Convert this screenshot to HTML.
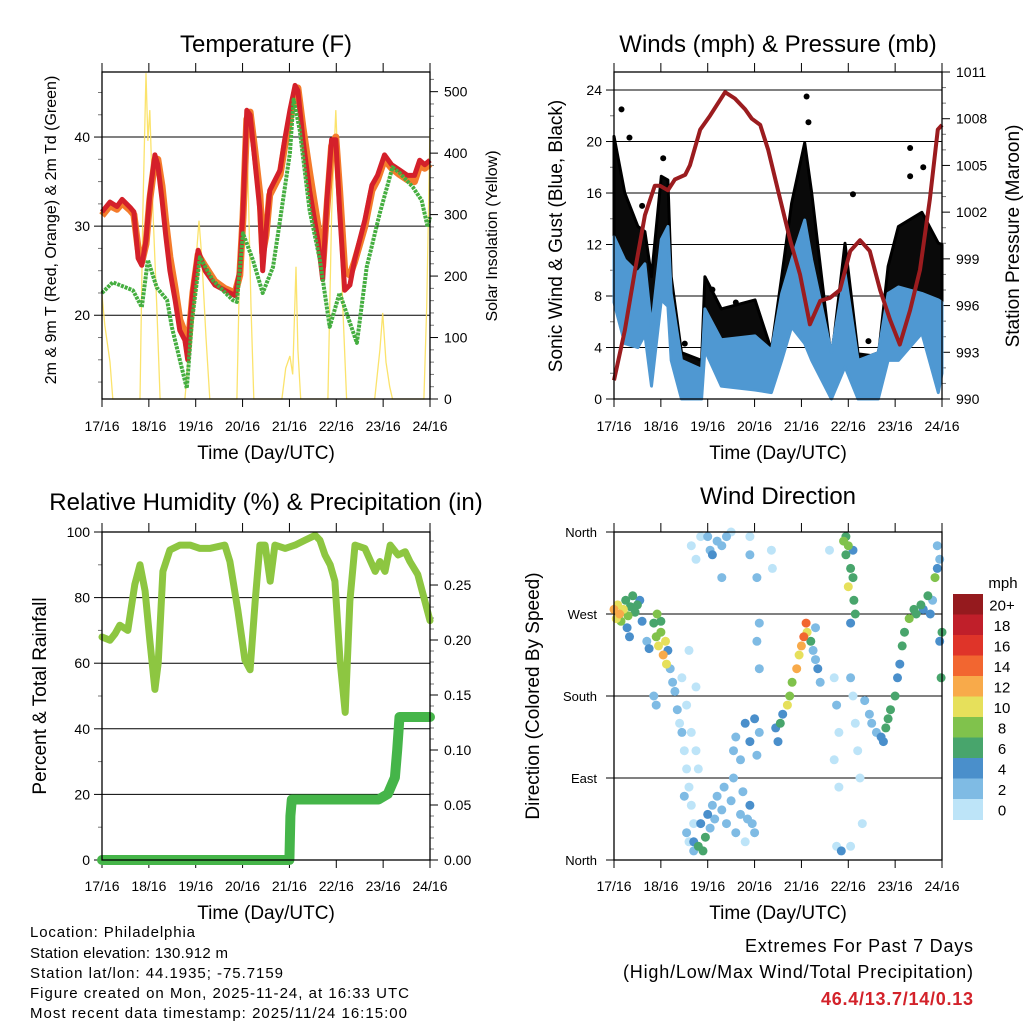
<!DOCTYPE html>
<html><head><meta charset="utf-8"><title>Station Meteogram</title>
<style>
html,body{margin:0;padding:0;background:#fff;}
svg{display:block;font-family:"Liberation Sans",Arial,sans-serif;}
</style></head>
<body>
<svg id="chart" width="1024" height="1024" viewBox="0 0 1024 1024" xmlns="http://www.w3.org/2000/svg">
<rect x="0" y="0" width="1024" height="1024" fill="#fff"/>
<g id="layer"></g>
<g font-size="15" fill="#000">
<text x="30" y="937" textLength="165">Location: Philadelphia</text>
<text x="30" y="958" textLength="198">Station elevation: 130.912 m</text>
<text x="30" y="978" textLength="253">Station lat/lon: 44.1935; -75.7159</text>
<text x="30" y="998" textLength="379">Figure created on Mon, 2025-11-24, at 16:33 UTC</text>
<text x="30" y="1018" textLength="377">Most recent data timestamp: 2025/11/24 16:15:00</text>
</g>
<g text-anchor="end">
<text x="973" y="952" font-size="18" textLength="228">Extremes For Past 7 Days</text>
<text x="973" y="978" font-size="18" textLength="350">(High/Low/Max Wind/Total Precipitation)</text>
<text x="973" y="1005" font-size="18" font-weight="bold" fill="#d3222a" textLength="152">46.4/13.7/14/0.13</text>
</g>
</svg>
<script>
// ---------- DATA ----------
const dayLabels = ["17/16","18/16","19/16","20/16","21/16","22/16","23/16","24/16"];
// Temperature
const tempT = [0,.17,.32,.43,.6,.68,.77,.85,.94,1.02,1.13,1.19,1.28,1.36,1.45,1.56,1.66,1.77,1.83,1.88,1.94,2.05,2.2,2.41,2.62,2.84,2.94,3.01,3.09,3.16,3.26,3.37,3.43,3.5,3.58,3.8,3.9,4.01,4.12,4.18,4.29,4.43,4.61,4.71,4.8,4.9,4.99,5.07,5.18,5.29,5.39,5.61,5.76,5.88,6.03,6.18,6.35,6.52,6.67,6.78,6.89,7.0];
const tempRed = [31.6,32.7,32.2,33.0,32.1,31.6,26.4,25.6,28.4,33.5,38.0,36.9,33.0,29.0,25.0,21.7,18.3,17.2,15.0,19.4,22.8,27.3,25.0,23.4,22.8,22.2,25.0,31.8,43.0,42.5,37.4,31.8,25.0,29.5,34.0,36.3,39.7,43.0,45.8,45.2,39.7,34.0,28.4,24.0,33.0,39.7,39.7,31.8,22.8,23.4,26.2,30.7,34.6,35.7,38.0,36.9,36.3,35.7,35.7,37.4,36.9,37.4];
const tempOrange = [31.2,32.3,31.9,32.6,31.8,31.3,27.5,26.0,28.0,33.0,37.4,37.5,34.5,30.5,26.5,23.0,19.5,18.0,16.0,19.0,22.5,26.8,25.5,23.8,23.0,22.5,24.5,31.0,42.0,42.8,38.5,33.5,27.0,29.0,33.5,35.8,39.0,42.0,45.0,45.5,41.0,36.0,30.0,25.5,32.0,39.0,40.0,34.0,25.0,24.5,26.0,30.0,34.0,35.2,37.5,36.5,35.8,35.2,35.0,36.8,36.5,37.0];
const dewT = [0,.23,.66,.85,.98,1.17,1.39,1.49,1.66,1.81,1.92,2.09,2.37,2.79,2.88,3.01,3.22,3.43,3.65,3.8,4.01,4.09,4.22,4.43,4.65,4.86,5.07,5.44,5.65,5.93,6.2,6.35,6.63,6.82,6.95,7.0];
const dewV = [22.5,23.7,22.8,20.9,26.2,23.1,21.7,18.7,15.0,11.8,19.4,26.5,23.9,21.7,21.5,29.2,26.2,22.5,25.4,30.7,38.2,44.2,40.8,31.8,26.2,18.7,22.5,16.9,25.4,31.5,36.6,36.0,34.4,32.9,29.9,31.0];
const solarT = [0,.06,.17,.23,.81,.87,.94,.98,1.02,1.09,1.17,1.24,1.77,1.88,1.98,2.07,2.13,2.22,2.3,2.88,2.96,3.05,3.11,3.18,3.24,3.84,3.92,4.01,4.07,4.14,4.18,4.24,4.82,4.9,4.99,5.05,5.14,5.22,5.82,5.93,5.99,6.06,6.14,6.2,6.87,6.93,7.0];
const solarV = [170,120,60,0,0,300,530,420,470,300,150,0,0,100,200,290,230,100,0,0,300,460,380,150,0,0,50,70,40,215,80,0,0,300,470,350,150,0,0,80,140,60,20,0,0,150,440];
const tempTicks = [20,30,40];
const solarTicks = [0,100,200,300,400,500];
// Winds
const windT = [0,.23,.51,.66,.80,1.01,1.15,1.22,1.44,1.87,1.94,2.29,3.01,3.36,3.58,3.79,4.07,4.22,4.64,4.93,5.21,5.64,5.85,6.07,6.57,6.92,7.0];
const windTop = [12.6,10.8,9.8,10.5,5.6,12.4,13.4,8.2,3.0,2.3,7.0,4.6,4.9,3.8,8.2,10.8,13.9,10.8,3.6,9.8,3.0,3.6,8.2,8.7,8.2,7.7,7.5];
const windBot = [7.5,4.3,4.0,5.0,1.0,7.7,7.2,3.0,0,0,3.8,1.0,0.7,0.5,3.0,5.6,4.3,3.0,0,2.5,0,0,3.0,3.0,5.1,0.5,2.0];
const gustTop = [20.4,16.0,13.4,13.0,9.5,17.3,17.0,9.5,3.6,3.0,9.5,7.0,7.7,3.8,9.5,15.2,19.9,16.0,3.0,12.1,3.5,3.3,10.3,13.4,14.5,12.1,12.0];
const gustOutT = [.16,.33,1.05,1.51,4.11,4.15,5.1,5.43,6.32,6.32,6.6,0.6,2.1,2.6];
const gustOutV = [22.5,20.3,18.7,4.3,23.5,21.5,15.9,4.5,19.5,17.3,18.0,15.0,8.5,7.5];
const presT = [0,.23,.45,.66,.87,.98,1.15,1.3,1.52,1.62,1.84,2.05,2.37,2.58,2.8,2.94,3.12,3.29,3.5,3.76,3.97,4.18,4.4,4.61,4.82,5.04,5.25,5.46,5.68,5.89,6.1,6.32,6.53,6.74,6.91,7.0];
const presV = [991.2,994.4,998.3,1001.8,1003.7,1003.7,1003.4,1004.1,1004.4,1005.0,1007.3,1008.2,1009.7,1009.3,1008.6,1008.0,1007.6,1006.0,1003.4,1000.2,998.0,994.8,996.3,996.5,997.0,999.5,1000.2,999.5,997.0,995.1,993.5,995.7,998.3,1002.8,1007.3,1007.6];
const windTicks = [0,4,8,12,16,20,24];
const presTicks = [990,993,996,999,1002,1005,1008,1011];
// RH & precip
const rhT = [0,.17,.28,.38,.55,.7,.81,.92,1.02,1.13,1.2,1.3,1.45,1.66,1.88,2.09,2.3,2.62,2.73,2.9,3.05,3.16,3.27,3.37,3.48,3.59,3.69,3.91,4.12,4.33,4.55,4.65,4.76,4.87,4.97,5.08,5.19,5.29,5.4,5.61,5.83,5.93,6.04,6.15,6.32,6.47,6.57,6.74,6.89,7.0];
const rhV = [68,67,69,71.6,70,84,90,82,67,52,60,88,94.5,96,96,95,95,96,91,76,61,58,79,96,96,85,96,95,96,97.5,99,97.5,93,90,85,61,45,79,96,95,88,91,88,96,93,94,91,87,79,73];
const precipT = [0,4.0,4.02,4.05,5.9,6.1,6.25,6.3,6.35,7.0];
const precipV = [0,0,0.04,0.055,0.055,0.06,0.075,0.1,0.13,0.13];
const rhTicks = [0,20,40,60,80,100];
const precipTicks = [0,0.05,0.10,0.15,0.20,0.25];
// Wind direction
const dirT = [0,.05,.08,.12,.15,.2,.25,.3,.35,.4,.45,.5,.55,.6,.28,.33,
 .7,.75,.85,.9,.95,1.0,1.05,1.1,1.12,1.15,1.2,.92,1.0,
 .85,.9,1.25,1.3,1.35,1.4,1.45,1.5,1.55,1.6,1.65,1.7,1.55,1.65,1.75,1.8,1.5,1.6,1.7,1.45,1.6,1.75,
 1.55,1.7,1.8,1.85,1.9,1.95,2.0,2.05,2.1,2.15,2.2,2.3,2.35,2.4,2.5,2.55,2.6,2.7,2.75,2.8,2.85,2.9,2.95,3.0,
 2.55,2.6,2.7,2.8,2.9,3.0,3.05,3.1,
 1.65,1.75,1.85,2.0,2.05,2.1,2.2,2.3,2.4,2.3,2.5,
 2.9,2.9,3.05,3.1,3.05,3.1,3.36,3.38,
 3.45,3.55,3.6,3.7,3.75,3.8,3.9,3.95,4.0,4.05,4.1,4.12,4.2,4.25,4.3,4.35,4.4,4.3,3.5,
 4.6,4.7,4.75,4.8,4.7,4.8,4.75,5.05,5.1,5.15,5.2,5.25,5.3,5.05,4.85,
 4.9,4.95,5.0,5.05,5.1,5.0,5.12,5.15,5.05,4.95,5.1,
 5.35,5.45,5.5,5.6,5.7,5.75,5.8,5.85,
 5.9,6.0,6.05,6.1,6.15,6.2,6.3,6.4,
 6.45,6.55,6.6,6.7,6.75,6.8,6.85,6.9,6.95,7.0,6.98,6.95,6.9];
const dirD = [275,265,280,270,262,275,285,268,278,290,272,280,285,262,255,245,
 240,232,260,245,235,250,225,240,215,230,210,270,262,
 180,170,195,185,165,150,140,120,100,80,60,40,170,140,120,100,70,20,10,200,230,190,
 30,20,15,40,10,25,50,35,60,45,70,55,80,40,65,90,30,50,75,20,45,60,40,30,
 120,135,110,150,130,155,115,140,
 345,330,355,355,340,335,350,345,355,310,360,
 355,335,310,260,240,210,340,320,
 145,150,160,170,180,195,210,225,235,245,260,250,240,230,220,210,195,255,130,
 340,200,170,140,110,80,15,200,180,150,120,90,40,15,10,
 350,335,345,320,310,300,285,270,260,355,340,
 175,160,150,140,135,130,145,155,
 165,180,200,215,235,250,265,275,
 270,280,275,290,270,285,310,320,330,250,200,240,345];
const dirS = [12,11,10,13,9,10,7,8,6,6,7,6,5,4,4,4,
 3,4,6,9,10,8,12,11,10,4,3,9,6,
 2,2,3,3,2,1,2,1,1,1,1,1,1,0,0,1,2,1,2,1,0,0,
 3,5,7,4,6,7,4,3,2,3,3,2,3,2,2,3,3,2,3,1,3,4,2,2,
 3,2,3,4,4,4,3,3,
 1,1,1,3,3,4,3,2,3,3,1,
 1,2,2,3,2,2,1,1,
 4,6,5,10,8,9,12,10,13,15,14,10,6,3,3,4,3,2,5,
 1,1,2,1,1,0,1,2,1,1,1,0,0,1,4,
 8,6,9,6,7,10,6,6,4,6,4,
 2,2,3,3,4,5,6,7,
 7,6,5,4,6,6,9,6,
 6,6,4,6,4,3,8,4,3,6,6,4,3];
const dirTickLabels = ["North","East","South","West","North"];
const speedLabels = ["0","2","4","6","8","10","12","14","16","18","20+"];
const speedColors = ["#bde4f8","#7fbbe4","#4a8fcb","#48a56c","#80c24c","#e6e05b","#f8aa4a","#f26630","#df3429","#c01f2a","#951a1e"];

// ---------- HELPERS ----------
const NS = "http://www.w3.org/2000/svg";
const layer = document.getElementById('layer');
function mk(tag, attrs, parent){ const e=document.createElementNS(NS,tag); for(const k in attrs) e.setAttribute(k,attrs[k]); (parent||layer).appendChild(e); return e; }
function txt(x,y,s,size,anchor,parent,extra){ const e=mk('text',Object.assign({x:x,y:y,'font-size':size,'text-anchor':anchor||'middle',fill:'#000'},extra||{}),parent); e.textContent=s; return e; }
function lin(d0,d1,r0,r1){ return v => r0 + (v-d0)/(d1-d0)*(r1-r0); }
function pathFrom(ts,vs,sx,sy){ let d=''; for(let i=0;i<ts.length;i++){ d+=(i?'L':'M')+sx(ts[i]).toFixed(1)+' '+sy(vs[i]).toFixed(1); } return d; }

const P = {
 temp:{l:102,r:430,t:72,b:399},
 wind:{l:614,r:942,t:72,b:399},
 rh:{l:102,r:430,t:532,b:860},
 dir:{l:614,r:942,t:532,b:860}
};

function frame(p, name, title, titleY, xLabY, xTitleY){
 const g=mk('g',{});
 
 
 const sx=lin(0,7,p.l,p.r);
 dayLabels.forEach((lab,i)=>{
  const x=sx(i);
  const tk=mk('line',{x1:x,x2:x,y1:p.b,y2:p.b+8,stroke:'#000','stroke-width':1},g);
  
  
  mk('line',{x1:x,x2:x,y1:p.t-9,y2:p.t,stroke:'#000','stroke-width':1},g);
  const t=txt(x,xLabY,lab,14,'middle',g);
  
  
 });
 const xt=txt((p.l+p.r)/2,xTitleY,'Time (Day/UTC)',19,'middle',g);
 
 
 const tt=txt((p.l+p.r)/2,titleY,title,24,'middle',g);
 
 
 return {sx:sx,g:g};
}
function box(p,name){
 const b=mk('rect',{x:p.l,y:p.t,width:p.r-p.l,height:p.b-p.t,fill:'none',stroke:'#000','stroke-width':1.3});
 
 
}
function yAxis(p,ticks,sy,fmt,side,g,minor){
 ticks.forEach(v=>{
  const y=sy(v);
  if(side==='left'){
   mk('line',{x1:p.l-8,x2:p.l,y1:y,y2:y,stroke:'#000','stroke-width':1},g);
   const t=txt(p.l-12,y+5,fmt(v),14,'end',g);
   
   
  } else {
   mk('line',{x1:p.r,x2:p.r+8,y1:y,y2:y,stroke:'#000','stroke-width':1},g);
   const t=txt(p.r+14,y+5,fmt(v),14,'start',g);
   
   
  }
 });
 if(minor){ minor.forEach(v=>{ const y=sy(v); if(side==='left') mk('line',{x1:p.l-4,x2:p.l,y1:y,y2:y,stroke:'#777','stroke-width':1},g); else mk('line',{x1:p.r,x2:p.r+4,y1:y,y2:y,stroke:'#777','stroke-width':1},g); }); }
}
function grid(p,vals,sy,g){ vals.forEach(v=>{ const y=sy(v); const l=mk('line',{x1:p.l,x2:p.r,y1:y,y2:y,stroke:'#000','stroke-width':1},g);   }); }
function vtitle(x,y,s,size,name){ const t=txt(x,y,s,size,'middle',layer,{transform:'rotate(-90 '+x+' '+y+')'});   }

// ---------- PANEL 1: TEMPERATURE ----------
(function(){
 const p=P.temp; const f=frame(p,'temperature','Temperature (F)',52,431,459);
 const sy=lin(10.6,47.3,p.b,p.t); const sy2=lin(0,532,p.b,p.t);
 grid(p,tempTicks,sy,f.g);
 const minT=[]; for(let v=12.5;v<47;v+=2.5) if(tempTicks.indexOf(v)<0) minT.push(v);
 yAxis(p,tempTicks,sy,v=>String(v),'left',f.g,minT);
 const minS=[]; for(let v=20;v<532;v+=20) if(v%100) minS.push(v);
 yAxis(p,solarTicks,sy2,v=>String(v),'right',f.g,minS);
 const s=mk('path',{d:pathFrom(solarT,solarV,f.sx,sy2),fill:'none',stroke:'#fbe05c','stroke-width':1.3,opacity:0.9});
 
 
 const o=mk('path',{d:pathFrom(tempT,tempOrange,f.sx,sy),fill:'none',stroke:'#f47b2b','stroke-width':7,'stroke-linejoin':'round'});
 
 
 const r=mk('path',{d:pathFrom(tempT,tempRed,f.sx,sy),fill:'none',stroke:'#d4202a','stroke-width':5,'stroke-linejoin':'round'});
 
 
 const d=mk('path',{d:pathFrom(dewT,dewV,f.sx,sy),fill:'none',stroke:'#45ae40','stroke-width':4,'stroke-dasharray':'3 1','stroke-linejoin':'round'});
 
 
 box(p,'temperature');
 vtitle(56,230,'2m & 9m T (Red, Orange) & 2m Td (Green)',16,'y-axis-title');
 vtitle(497,236,'Solar Insolation (Yellow)',16,'y2-axis-title');
})();

// ---------- PANEL 2: WINDS ----------
(function(){
 const p=P.wind; const f=frame(p,'winds','Winds (mph) & Pressure (mb)',52,431,459);
 const sy=lin(0,25.4,p.b,p.t); const sy2=lin(990,1011,p.b,p.t);
 grid(p,windTicks.slice(1),sy,f.g);
 const minW=[]; for(let v=2;v<25;v+=4) minW.push(v);
 yAxis(p,windTicks,sy,v=>String(v),'left',f.g,minW);
 const minP=[]; for(let v=991;v<1011;v++) if((v-990)%3) minP.push(v);
 yAxis(p,presTicks,sy2,v=>String(v),'right',f.g,minP);
 let gd=pathFrom(windT,gustTop,f.sx,sy);
 for(let i=windT.length-1;i>=0;i--) gd+='L'+f.sx(windT[i]).toFixed(1)+' '+sy(windTop[i]).toFixed(1);
 const gb=mk('path',{d:gd+'Z',fill:'#0a0a0a',stroke:'#000','stroke-width':3,'stroke-linejoin':'round'});
 
 
 gustOutT.forEach((t,i)=>{
  const c=mk('circle',{cx:f.sx(t),cy:sy(gustOutV[i]),r:3,fill:'#000'});
  
  
 });
 let wd=pathFrom(windT,windTop,f.sx,sy);
 for(let i=windT.length-1;i>=0;i--) wd+='L'+f.sx(windT[i]).toFixed(1)+' '+sy(windBot[i]).toFixed(1);
 const wb=mk('path',{d:wd+'Z',fill:'#4f98d2',stroke:'#4f98d2','stroke-width':3,'stroke-linejoin':'round'});
 
 
 const pl=mk('path',{d:pathFrom(presT,presV,f.sx,sy2),fill:'none',stroke:'#9b1c1f','stroke-width':4,'stroke-linejoin':'round'});
 
 
 box(p,'winds');
 vtitle(562,236,'Sonic Wind & Gust (Blue, Black)',19,'y-axis-title');
 vtitle(1019,236,'Station Pressure (Maroon)',19,'y2-axis-title');
})();

// ---------- PANEL 3: RH ----------
(function(){
 const p=P.rh; const f=frame(p,'humidity','Relative Humidity (%) & Precipitation (in)',510,891,919);
 const sy=lin(0,100,p.b,p.t); const sy2=lin(0,0.2982,p.b,p.t);
 grid(p,rhTicks.slice(1,5),sy,f.g);
 const minR=[]; for(let v=10;v<100;v+=20) minR.push(v);
 yAxis(p,rhTicks,sy,v=>String(v),'left',f.g,minR);
 const minP=[]; for(let v=0.01;v<0.295;v+=0.01) if(Math.round(v*100)%5) minP.push(v);
 yAxis(p,precipTicks,sy2,v=>v.toFixed(2),'right',f.g,minP);
 const rl=mk('path',{d:pathFrom(rhT,rhV,f.sx,sy),fill:'none',stroke:'#8dc641','stroke-width':7,'stroke-linejoin':'round','stroke-linecap':'round'});
 
 
 const pr=mk('path',{d:pathFrom(precipT,precipV,f.sx,sy2),fill:'none',stroke:'#45b549','stroke-width':10,'stroke-linejoin':'round','stroke-linecap':'round'});
 
 
 box(p,'humidity');
 vtitle(46,696,'Percent & Total Rainfall',19,'y-axis-title');
})();

// ---------- PANEL 4: WIND DIRECTION ----------
(function(){
 const p=P.dir; const f=frame(p,'wind-direction','Wind Direction',504,891,919);
 const sy=lin(0,360,p.b,p.t);
 grid(p,[90,180,270],sy,f.g);
 [0,90,180,270,360].forEach((v,i)=>{
  const y=sy(v);
  mk('line',{x1:p.l-8,x2:p.l,y1:y,y2:y,stroke:'#000','stroke-width':1},f.g);
  const t=txt(p.l-17,y+5,dirTickLabels[i],13,'end',f.g);
  
  
 });
 const pts=mk('g',{});
 
 
 const order=dirT.map((_,i)=>i).sort((a,b)=>dirS[a]-dirS[b]);
 order.forEach(i=>{
  const ci=Math.min(10,Math.floor(dirS[i]/2));
  const c=mk('circle',{cx:f.sx(dirT[i]).toFixed(1),cy:sy(dirD[i]).toFixed(1),r:4.5,fill:speedColors[ci]},pts);
  
  
 });
 box(p,'wind-direction');
 vtitle(539,696,'Direction (Colored By Speed)',19,'y-axis-title');
 const cb=mk('g',{});
 
 
 const top=594, h=20.5;
 for(let k=10;k>=0;k--){
  const y=top+(10-k)*h;
  const r=mk('rect',{x:953,y:y.toFixed(1),width:30,height:(h+0.5).toFixed(1),fill:speedColors[k]},cb);
  
  
  const t=txt(1002,y+h/2+6,speedLabels[k],15,'middle',cb);
  
  
 }
 const u=txt(1003,588,'mph',15,'middle',cb);
 
 
})();
</script>
</body></html>
